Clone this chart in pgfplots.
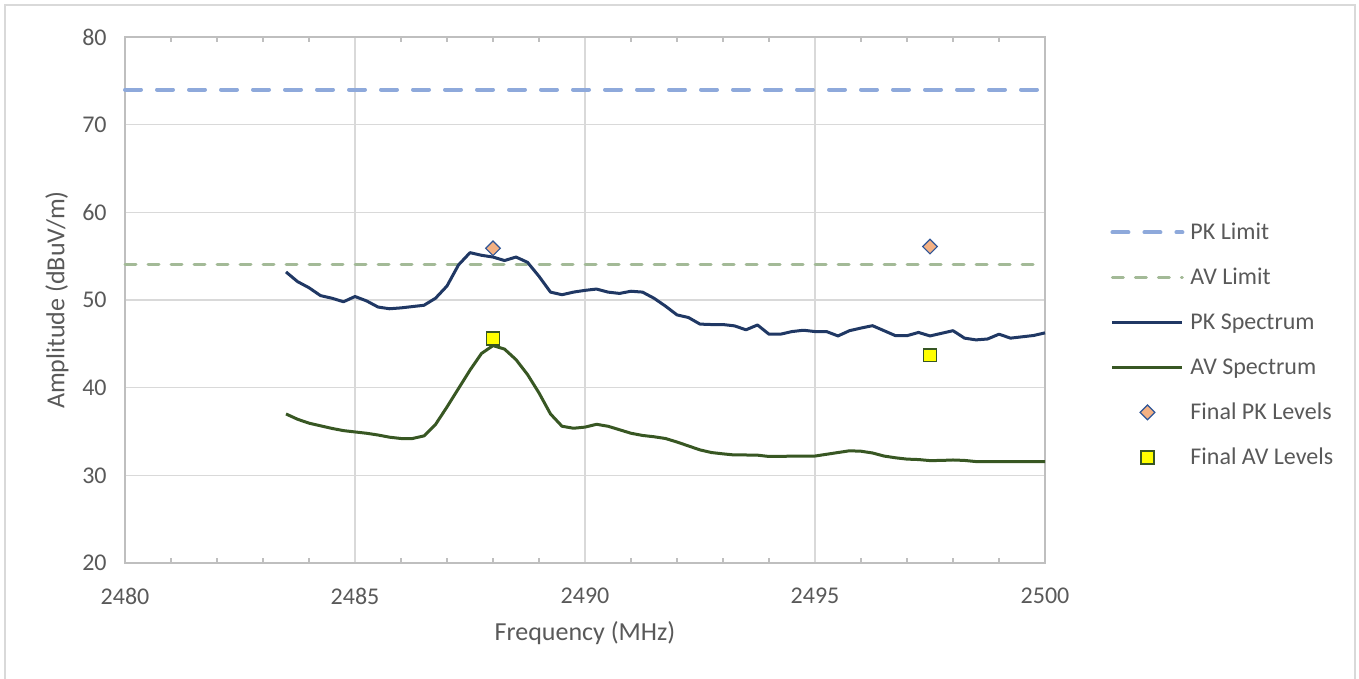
\documentclass[border=0pt]{standalone}
\usepackage{fontspec}
\setmainfont{Carlito}
\usepackage{pgfplots}
\pgfplotsset{compat=1.18}
\usepackage{pgfplotstable}
\definecolor{txt}{HTML}{595959}
\definecolor{gridc}{HTML}{D9D9D9}
\definecolor{axc}{HTML}{BFBFBF}
\definecolor{pklim}{HTML}{8EA9DB}
\definecolor{avlim}{HTML}{A3BA97}
\definecolor{pkspec}{HTML}{203864}
\definecolor{avspec}{HTML}{385723}
\definecolor{pkfill}{HTML}{F4B183}
\definecolor{pkedge}{HTML}{2F5597}
\definecolor{avfill}{HTML}{FFFF00}
\definecolor{avedge}{HTML}{375623}
\pgfplotsset{
  lineleg/.style={legend image code/.code={\draw[##1] (0pt,0.6pt) -- (35pt,0.6pt); \path (0pt,0.6pt) (38pt,0.6pt);}},
  markleg/.style={legend image code/.code={\draw[##1] plot coordinates {(17.5pt,0.6pt)}; \path (0pt,0.6pt) (38pt,0.6pt);}},
}

\pgfplotstableread{
f v
2483.50 53.2
2483.75 52.1
2484.00 51.4
2484.25 50.5
2484.50 50.2
2484.75 49.8
2485.00 50.4
2485.25 49.9
2485.50 49.2
2485.75 49.0
2486.00 49.1
2486.25 49.25
2486.50 49.4
2486.75 50.2
2487.00 51.6
2487.25 54.0
2487.50 55.4
2487.75 55.1
2488.00 54.9
2488.25 54.5
2488.50 54.9
2488.75 54.3
2489.00 52.7
2489.25 50.9
2489.50 50.6
2489.75 50.9
2490.00 51.1
2490.25 51.25
2490.50 50.9
2490.75 50.75
2491.00 51.0
2491.25 50.9
2491.50 50.2
2491.75 49.3
2492.00 48.3
2492.25 48.0
2492.50 47.25
2492.75 47.2
2493.00 47.2
2493.25 47.05
2493.50 46.6
2493.75 47.15
2494.00 46.1
2494.25 46.1
2494.50 46.4
2494.75 46.55
2495.00 46.4
2495.25 46.4
2495.50 45.9
2495.75 46.5
2496.00 46.8
2496.25 47.07
2496.50 46.5
2496.75 45.93
2497.00 45.93
2497.25 46.3
2497.50 45.9
2497.75 46.2
2498.00 46.5
2498.25 45.65
2498.50 45.45
2498.75 45.55
2499.00 46.1
2499.25 45.65
2499.50 45.8
2499.75 45.95
2500.00 46.25
}\pkspectrum

\pgfplotstableread{
f v
2483.50 37.0
2483.75 36.4
2484.00 35.95
2484.25 35.65
2484.50 35.35
2484.75 35.1
2485.00 34.95
2485.25 34.8
2485.50 34.6
2485.75 34.35
2486.00 34.2
2486.25 34.2
2486.50 34.5
2486.75 35.8
2487.00 37.8
2487.25 39.9
2487.50 42.0
2487.75 43.9
2488.00 44.8
2488.25 44.4
2488.50 43.2
2488.75 41.5
2489.00 39.4
2489.25 37.0
2489.50 35.6
2489.75 35.37
2490.00 35.5
2490.25 35.82
2490.50 35.6
2490.75 35.2
2491.00 34.8
2491.25 34.55
2491.50 34.4
2491.75 34.2
2492.00 33.8
2492.25 33.35
2492.50 32.9
2492.75 32.6
2493.00 32.45
2493.25 32.32
2493.50 32.32
2493.75 32.3
2494.00 32.15
2494.25 32.15
2494.50 32.2
2494.75 32.2
2495.00 32.2
2495.25 32.4
2495.50 32.6
2495.75 32.8
2496.00 32.75
2496.25 32.55
2496.50 32.2
2496.75 32.0
2497.00 31.85
2497.25 31.8
2497.50 31.68
2497.75 31.7
2498.00 31.75
2498.25 31.7
2498.50 31.57
2498.75 31.55
2499.00 31.55
2499.25 31.55
2499.50 31.55
2499.75 31.55
2500.00 31.55
}\avspectrum

\begin{document}
\begin{tikzpicture}
\useasboundingbox (0,0) rectangle (679.5pt,339.5pt);
\draw[gridc, line width=0.8pt] (2.5pt,-10pt) -- (2.5pt,337pt) -- (677.5pt,337pt) -- (677.5pt,-10pt);
\begin{axis}[
  at={(62.5pt,58pt)}, anchor=south west,
  scale only axis, width=460pt, height=263pt,
  xmin=2480, xmax=2500, ymin=20, ymax=80,
  xtick={2480,2485,...,2500}, ytick={20,30,...,80},
  minor x tick num=4,
  tick align=inside,
  major tick length=0pt, minor tick length=2.5pt,
  ytick style={draw=none},
  minor tick style={axc, line width=0.6pt},
  grid=major,
  major grid style={gridc, line width=0.8pt},
  axis line style={axc, line width=0.8pt},
  /pgf/number format/assume math mode=true,
  /pgf/number format/.cd, 1000 sep={}, /pgfplots/.cd,
  tick label style={font=\fontsize{12}{14}\selectfont, text=txt},
  xticklabel style={inner sep=0pt, anchor=north, yshift=-12.5pt},
  yticklabel style={inner sep=0pt, anchor=east, xshift=-9pt},
  label style={font=\fontsize{13}{15}\selectfont, text=txt},
  xlabel={Frequency (MHz)},
  ylabel={Amplitude (dBuV/m)},
  xlabel style={at={([yshift=-35pt]axis description cs:0.5,0)}, anchor=center, inner sep=0pt},
  ylabel style={at={([xshift=-34pt]axis description cs:0,0.5)}, anchor=center, inner sep=0pt},
  legend style={at={(axis description cs:1.0707,0.648)}, anchor=north west,
    draw=none, fill=none, inner sep=0pt, row sep=11.5pt,
    font=\fontsize{12}{14}\selectfont, text=txt,
    nodes={inner sep=0pt, text height=8.5pt, text depth=2.5pt}},
  legend cell align=left,
  clip=false,
]
\addplot[pklim, line width=2pt, line cap=round, dash pattern=on 8pt off 8pt, lineleg]
  coordinates {(2480,74) (2500,74)};
\addlegendentry{PK Limit}
\addplot[avlim, line width=1.5pt, line cap=round, dash pattern=on 5.5pt off 6pt, lineleg]
  coordinates {(2480,54) (2500,54)};
\addlegendentry{AV Limit}
\addplot[pkspec, line width=1.5pt, line join=round, lineleg]
  table[x=f, y=v] {\pkspectrum};
\addlegendentry{PK Spectrum}
\addplot[avspec, line width=1.5pt, line join=round, lineleg]
  table[x=f, y=v] {\avspectrum};
\addlegendentry{AV Spectrum}
\addplot[only marks, mark=square*, mark size=2.6pt,
  mark options={rotate=45, fill=pkfill, draw=pkedge, line width=0.6pt}, markleg]
  coordinates {(2488.0,55.9) (2497.5,56.1)};
\addlegendentry{Final PK Levels}
\addplot[only marks, mark=square*, mark size=3.2pt,
  mark options={fill=avfill, draw=avedge, line width=0.8pt}, markleg]
  coordinates {(2488.0,45.6) (2497.5,43.7)};
\addlegendentry{Final AV Levels}
\end{axis}
\end{tikzpicture}
\end{document}
